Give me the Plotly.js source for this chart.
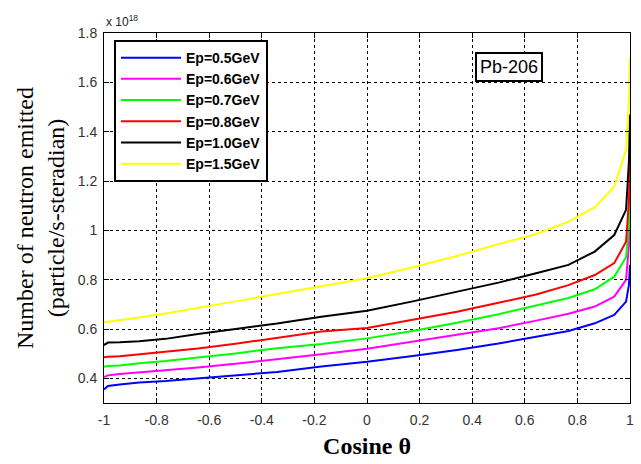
<!DOCTYPE html>
<html><head><meta charset="utf-8">
<script src="https://cdn.plot.ly/plotly-3.0.1.min.js"></script>
<style>html,body{margin:0;padding:0;background:#fff}</style>
</head><body><div id="chart" style="width:641px;height:464px"></div>
<script>
// cos(theta) sample points (values in units of 10^18 particle/s-steradian)
const cosTheta = [-1, -0.985, -0.940, -0.866, -0.766, -0.643, -0.5, -0.342, -0.174, 0, 0.174, 0.342, 0.5, 0.643, 0.766, 0.866, 0.940, 0.985, 0.996, 1];
const ep05 = [0.355, 0.369, 0.375, 0.383, 0.389, 0.400, 0.411, 0.426, 0.448, 0.467, 0.491, 0.515, 0.541, 0.570, 0.592, 0.623, 0.657, 0.711, 0.78, 0.86];
const ep06 = [0.405, 0.412, 0.418, 0.424, 0.434, 0.444, 0.459, 0.477, 0.498, 0.520, 0.549, 0.574, 0.603, 0.634, 0.662, 0.691, 0.731, 0.799, 0.94, 1.076];
const ep07 = [0.447, 0.450, 0.452, 0.461, 0.470, 0.483, 0.501, 0.522, 0.539, 0.562, 0.592, 0.625, 0.660, 0.695, 0.726, 0.761, 0.812, 0.891, 1.02, 1.15];
const ep08 = [0.485, 0.487, 0.490, 0.497, 0.508, 0.521, 0.540, 0.563, 0.590, 0.604, 0.638, 0.670, 0.706, 0.740, 0.778, 0.819, 0.867, 0.954, 1.12, 1.28];
const ep10 = [0.535, 0.545, 0.546, 0.550, 0.560, 0.580, 0.600, 0.622, 0.650, 0.674, 0.712, 0.750, 0.788, 0.826, 0.860, 0.914, 0.981, 1.083, 1.28, 1.47];
const ep15 = [0.627, 0.629, 0.636, 0.647, 0.663, 0.685, 0.712, 0.742, 0.772, 0.806, 0.850, 0.896, 0.944, 0.985, 1.035, 1.094, 1.177, 1.326, 1.52, 1.70];
const seriesNames = ['Ep=0.5GeV', 'Ep=0.6GeV', 'Ep=0.7GeV', 'Ep=0.8GeV', 'Ep=1.0GeV', 'Ep=1.5GeV'];
const seriesValues = [ep05, ep06, ep07, ep08, ep10, ep15];
const seriesColors = ['#0000ff', '#ff00ff', '#00ff00', '#ff0000', '#000000', '#ffff00'];
const xTickVals = [-1, -0.8, -0.6, -0.4, -0.2, 0, 0.2, 0.4, 0.6, 0.8, 1];
const xTickText = ['-1', '-0.8', '-0.6', '-0.4', '-0.2', '0', '0.2', '0.4', '0.6', '0.8', '1'];
const yTickVals = [0.4, 0.6, 0.8, 1.0, 1.2, 1.4, 1.6, 1.8];
const yTickText = ['0.4', '0.6', '0.8', '1', '1.2', '1.4', '1.6', '1.8'];

const traces = seriesNames.map((n, i) => ({
  x: cosTheta, y: seriesValues[i], name: n, type: 'scatter', mode: 'lines',
  line: {color: seriesColors[i], width: 2}
}));

const axisCommon = {
  showline: true, mirror: 'ticks', linecolor: '#000', linewidth: 1,
  ticks: 'inside', ticklen: 5, tickcolor: '#000',
  showgrid: true, gridcolor: '#000', gridwidth: 1, griddash: '3px,3px',
  zeroline: false, tickfont: {family: 'Arial, Liberation Sans', size: 14, color: '#333'}
};

const layout = {
  width: 641, height: 464,
  margin: {l: 104, r: 11, t: 33, b: 61},
  paper_bgcolor: '#fff', plot_bgcolor: '#fff',
  showlegend: true,
  legend: {x: 0.019, y: 0.981, xanchor: 'left', yanchor: 'top',
    bgcolor: '#fff', bordercolor: '#000', borderwidth: 2, itemwidth: 60,
    font: {family: 'Arial, Liberation Sans', size: 14, color: '#000', weight: 'bold'},
    tracegroupgap: 0},
  xaxis: Object.assign({}, axisCommon, {
    range: [-1, 1], tickmode: 'array', tickvals: xTickVals, ticktext: xTickText, ticklabelstandoff: 4,
    title: {text: '<b>Cosine θ</b>', font: {family: 'Liberation Serif, Times New Roman', size: 24, color: '#000'}, standoff: 10}
  }),
  yaxis: Object.assign({}, axisCommon, {
    range: [0.3, 1.8], tickmode: 'array', tickvals: yTickVals, ticktext: yTickText, ticklabelstandoff: 3,
    title: {text: 'Number of neutron emitted<br>(particle/s-steradian)', font: {family: 'Liberation Serif, Times New Roman', size: 24, color: '#000'}, standoff: 6}
  }),
  annotations: [
    {xref: 'paper', yref: 'paper', x: 0.77, y: 0.907, xanchor: 'center', yanchor: 'middle', text: 'Pb-206', showarrow: false,
     font: {family: 'Arial, Liberation Sans', size: 18, color: '#000'},
     bgcolor: '#fff', bordercolor: '#000', borderwidth: 2, borderpad: 3},
    {xref: 'paper', yref: 'paper', x: 0, y: 1, xanchor: 'left', yanchor: 'bottom', yshift: 2,
     text: 'x 10<sup>18</sup>', showarrow: false,
     font: {family: 'Arial, Liberation Sans', size: 12, color: '#222'}}
  ]
};

Plotly.newPlot('chart', traces, layout, {displayModeBar: false, staticPlot: true});
</script>
</body></html>
